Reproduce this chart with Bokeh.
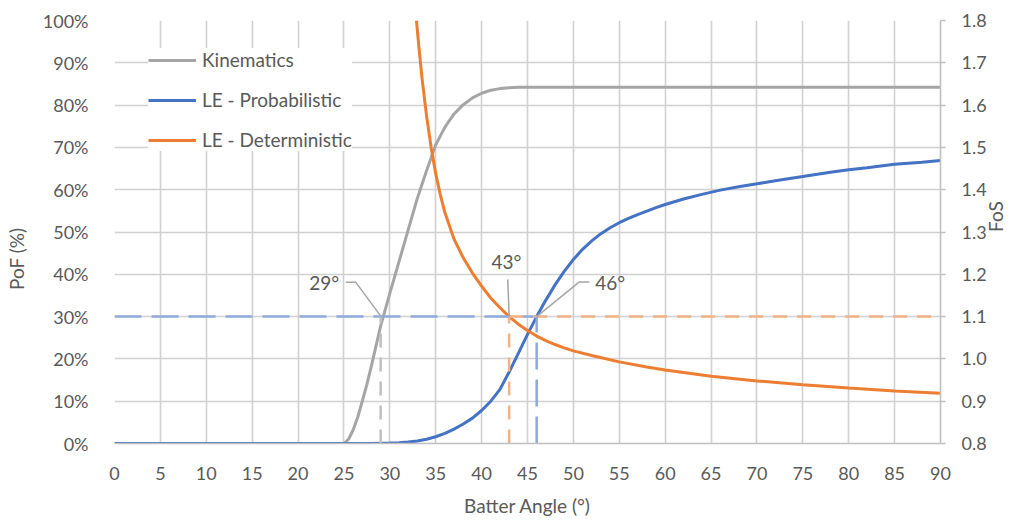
import math
from bokeh.plotting import figure
from bokeh.models import (Range1d, LinearAxis, FixedTicker, PrintfTickFormatter,
                          Legend, LegendItem, Label)
from bokeh.embed import file_html
from bokeh.resources import INLINE

# ---------------- data ----------------
angle_kin = [0, 25, 25.5, 26, 26.5, 27, 27.5, 28, 29, 30, 31, 32, 33, 34, 35, 36, 37,
             38, 39, 40, 41, 42, 43, 44, 50, 60, 70, 80, 90]
pof_kin = [0, 0, 1.0, 3.2, 6.2, 10.0, 14.0, 18.4, 27.8, 35.5, 43.0, 50.5, 58.0, 64.5,
           70.6, 74.8, 77.9, 80.1, 81.7, 82.8, 83.5, 83.9, 84.1, 84.2, 84.2, 84.2,
           84.2, 84.2, 84.2]

angle_prob = [0, 28, 29, 30, 31, 32, 33, 34, 35, 36, 37, 38, 39, 40, 41, 42, 43, 44,
              45, 46, 47, 48, 49, 50, 51, 52, 53, 54, 55, 56, 57, 58, 59, 60, 62, 64,
              66, 68, 70, 72, 75, 78, 80, 82, 85, 88, 90]
pof_prob = [0, 0, 0.05, 0.1, 0.2, 0.35, 0.6, 1.0, 1.6, 2.4, 3.4, 4.6, 6.0, 7.8, 10.0,
            12.8, 16.9, 21.3, 25.8, 30.0, 33.9, 37.5, 40.7, 43.5, 45.9, 47.9, 49.6,
            51.0, 52.2, 53.2, 54.1, 54.95, 55.75, 56.5, 57.8, 58.9, 59.9, 60.7, 61.4,
            62.1, 63.1, 64.1, 64.7, 65.2, 66.0, 66.5, 66.9]

angle_det = [32.9, 33.2, 33.5, 34, 34.5, 35, 35.5, 36, 37, 38, 39, 40, 41, 42, 43, 44,
             45, 46, 47, 48, 49, 50, 52, 55, 58, 60, 65, 70, 75, 80, 85, 90]
fos_det = [1.800, 1.730, 1.665, 1.575, 1.500, 1.438, 1.388, 1.346, 1.283, 1.239, 1.203,
           1.172, 1.144, 1.121, 1.100, 1.082, 1.067, 1.054, 1.043, 1.034, 1.026, 1.019,
           1.008, 0.993, 0.981, 0.974, 0.959, 0.948, 0.939, 0.931, 0.924, 0.919]

x_ticks = list(range(0, 91, 5))
pof_ticks = list(range(0, 101, 10))
fos_ticks = [0.8, 0.9, 1.0, 1.1, 1.2, 1.3, 1.4, 1.5, 1.6, 1.7, 1.8]

threshold_pof = 30
threshold_fos = 1.1
kin_angle = 29
det_angle = 43
prob_angle = 46

series_names = ["Kinematics", "LE - Probabilistic", "LE - Deterministic"]
x_title = "Batter Angle (°)"
y_title = "PoF (%)"
y2_title = "FoS"

# ---------------- styles ----------------
FONT = "Lato"
TXT = "#595959"
GREY = "#a5a5a5"
BLUE = "#4472c4"
ORANGE = "#ed7d31"
GRID = "#d0d0d0"

p = figure(width=1021, height=519, output_backend="svg", toolbar_location=None,
           x_range=Range1d(0, 90), y_range=Range1d(0, 100),
           min_border_left=114, min_border_right=80, min_border_top=20,
           min_border_bottom=75)
p.outline_line_color = None
p.background_fill_color = "white"

p.extra_y_ranges = {"fos": Range1d(0.8, 1.8)}

# grids
p.xgrid.ticker = FixedTicker(ticks=x_ticks)
p.ygrid.ticker = FixedTicker(ticks=pof_ticks)
for g in (p.xgrid, p.ygrid):
    g.grid_line_color = GRID
    g.grid_line_width = 1.6

# bottom axis
xa = p.xaxis[0]
xa.ticker = FixedTicker(ticks=x_ticks)
xa.axis_label = x_title
xa.axis_line_color = "#bfbfbf"
xa.axis_line_width = 1.6
xa.major_tick_line_color = None
xa.minor_tick_line_color = None
xa.major_label_standoff = 17
xa.axis_label_standoff = 11

# left axis (title padded so that its visible text sits a little lower, as in the reference)
ya = p.yaxis[0]
ya.ticker = FixedTicker(ticks=pof_ticks)
ya.formatter = PrintfTickFormatter(format="%d%%")
ya.axis_label = y_title + "\u00a0" * 11
ya.axis_line_color = None
ya.major_tick_line_color = None
ya.minor_tick_line_color = None
ya.major_label_standoff = 20
ya.axis_label_standoff = 12

# right axis
ra = LinearAxis(y_range_name="fos", ticker=FixedTicker(ticks=fos_ticks),
                formatter=PrintfTickFormatter(format="%.1f"), axis_label=y2_title)
ra.axis_line_color = "#bfbfbf"
ra.axis_line_width = 1.6
ra.major_tick_line_color = "#bfbfbf"
ra.major_tick_line_width = 1.6
ra.major_tick_out = 5
ra.major_tick_in = 0
ra.minor_tick_line_color = None
ra.major_label_standoff = 16
ra.axis_label_standoff = 6
if "axis_label_orientation" in ra.properties():
    ra.axis_label_orientation = math.pi / 2
p.add_layout(ra, "right")

for ax in (xa, ya, ra):
    ax.major_label_text_font = FONT
    ax.major_label_text_font_size = "18px"
    ax.major_label_text_color = TXT
    ax.axis_label_text_font = FONT
    ax.axis_label_text_font_size = "19px"
    ax.axis_label_text_font_style = "normal"
    ax.axis_label_text_color = TXT

# ---------------- main curves ----------------
r_kin = p.line(angle_kin, pof_kin, line_color=GREY, line_width=3)
r_prob = p.line(angle_prob, pof_prob, line_color=BLUE, line_width=3)
r_det = p.line(angle_det, fos_det, line_color=ORANGE, line_width=3, y_range_name="fos")

# ---------------- reference dashed lines ----------------
p.line([0, prob_angle], [threshold_pof, threshold_pof], line_color="#8eaadb",
       line_width=2.5, line_dash="27 10")
p.line([det_angle, 90], [threshold_fos, threshold_fos], line_color="#f4b183",
       line_width=2.5, line_dash="14 10", y_range_name="fos")
p.line([kin_angle, kin_angle], [0, threshold_pof], line_color="#bfbfbf",
       line_width=2.5, line_dash="14 10")
p.line([det_angle, det_angle], [0.8, threshold_fos], line_color="#f4b183",
       line_width=2.5, line_dash="14 10", y_range_name="fos")
p.line([prob_angle, prob_angle], [0, threshold_pof], line_color="#8eaadb",
       line_width=2.5, line_dash="27 10")

# ---------------- callouts ----------------
LEAD = "#a5a5a5"
p.line([kin_angle - 3.8, kin_angle - 2.7, kin_angle + 0.05],
       [threshold_pof + 8.1, threshold_pof + 8.1, threshold_pof],
       line_color=LEAD, line_width=1.5)
p.line([det_angle - 0.15, det_angle], [threshold_pof + 8.8, threshold_pof],
       line_color=LEAD, line_width=1.5)
p.line([prob_angle + 5.74, prob_angle + 4.65, prob_angle],
       [threshold_pof + 8.2, threshold_pof + 8.2, threshold_pof],
       line_color=LEAD, line_width=1.5)

callouts = [(kin_angle, -6.15, 8.1), (det_angle, -0.3, 13.0), (prob_angle, 8.0, 8.0)]
for ang, dx, dy in callouts:
    p.add_layout(Label(x=ang + dx, y=threshold_pof + dy, text=f"{ang}°",
                       text_font=FONT, text_font_size="19px", text_color=TXT,
                       text_align="center", text_baseline="middle"))

# ---------------- legend ----------------
legend = Legend(items=[LegendItem(label=series_names[0], renderers=[r_kin]),
                       LegendItem(label=series_names[1], renderers=[r_prob]),
                       LegendItem(label=series_names[2], renderers=[r_det])],
                location=(34, 292))
legend.background_fill_color = "white"
legend.background_fill_alpha = 1.0
legend.border_line_color = None
legend.label_text_font = FONT
legend.label_text_font_size = "19px"
legend.label_text_color = TXT
legend.glyph_width = 48
legend.glyph_height = 20
legend.label_height = 20
legend.spacing = 17
legend.padding = 10
legend.margin = 0
legend.label_standoff = 6
p.add_layout(legend, "center")

open("out.html", "w").write(file_html(p, INLINE))
